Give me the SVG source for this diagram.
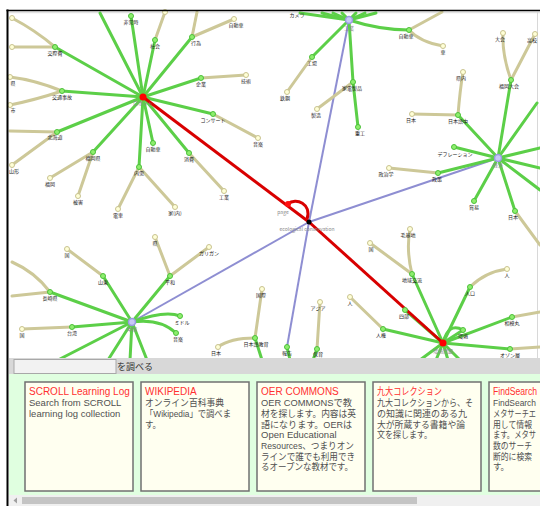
<svg xmlns="http://www.w3.org/2000/svg" width="540" height="508" viewBox="0 0 540 508">
<style>
.g{stroke:#5ccf48;stroke-width:3;fill:none;stroke-linecap:round}
.t{stroke:#cdc898;stroke-width:3;fill:none;stroke-linecap:round}
.b{stroke:#8e8ed2;stroke-width:2;fill:none}
.r{stroke:#d80000;stroke-width:3;fill:none}
.gn{fill:#8eee6e;stroke:#4cc03a;stroke-width:1}
.tn{fill:#ffffd6;stroke:#c8c290;stroke-width:1}
.hn{fill:#c8c8f8;stroke:#9a9ae0;stroke-width:1.5}
.lb{font-family:"Noto Sans CJK JP",sans-serif;font-size:5px;fill:#222;text-anchor:middle}
.hl{font-family:"Noto Sans CJK JP","Liberation Sans",sans-serif;font-size:5px;fill:#888;text-anchor:middle}
.card{fill:#fffff0;stroke:#707070;stroke-width:1.5}
.ct{font-family:"Liberation Sans","Noto Sans CJK JP",sans-serif;font-size:10px;fill:#ff3030}
.cb{font-family:"Liberation Sans","Noto Sans CJK JP",sans-serif;font-size:9.5px;fill:#505050}
</style>
<rect x="0" y="0" width="540" height="508" fill="#ffffff"/>
<!-- frame -->
<rect x="9" y="11" width="531" height="347" fill="#ffffff"/>
<line x1="9" y1="12.5" x2="540" y2="12.5" stroke="#e2e2e2" stroke-width="1.5"/>
<line x1="537.5" y1="12" x2="537.5" y2="358" stroke="#d8d8d8" stroke-width="1"/>

<g id="connectors">
<!-- blue -->
<line class="b" x1="309" y1="222" x2="349" y2="20"/>
<line class="b" x1="309" y1="222" x2="498" y2="158"/>
<line class="b" x1="309" y1="222" x2="132" y2="322"/>
<line class="b" x1="309" y1="222" x2="287" y2="347"/>
<!-- tan -->
<path class="t" d="M55,47 Q35,30 12,18"/>
<line class="t" x1="55" y1="47" x2="12" y2="47"/>
<path class="t" d="M62,91 Q35,80 10,77"/>
<path class="t" d="M62,91 Q35,100 10,105"/>
<line class="t" x1="155" y1="40" x2="165" y2="12"/>
<line class="t" x1="192" y1="37" x2="234" y2="19"/>
<line class="t" x1="192" y1="37" x2="197" y2="12"/>
<line class="t" x1="201" y1="78" x2="246" y2="75"/>
<line class="t" x1="213" y1="114" x2="258" y2="138"/>
<line class="t" x1="189" y1="153" x2="224" y2="191"/>
<line class="t" x1="139" y1="167" x2="118" y2="209"/>
<line class="t" x1="139" y1="167" x2="175" y2="207"/>
<line class="t" x1="93" y1="152" x2="50" y2="178"/>
<line class="t" x1="93" y1="152" x2="78" y2="196"/>
<line class="t" x1="57" y1="132" x2="10" y2="131"/>
<line class="t" x1="57" y1="132" x2="12" y2="165"/>
<line class="t" x1="312" y1="57" x2="287" y2="92"/>
<line class="t" x1="353" y1="82" x2="317" y2="109"/>
<line class="t" x1="409" y1="30" x2="442" y2="12"/>
<path class="t" d="M409,30 Q420,42 443,46"/>
<line class="t" x1="438" y1="173" x2="389" y2="168"/>
<line class="t" x1="515" y1="211" x2="540" y2="245"/>
<line class="t" x1="458" y1="115" x2="412" y2="114"/>
<path class="t" d="M458,115 Q460,90 463,72"/>
<path class="t" d="M511,80 Q502,55 503,33"/>
<line class="t" x1="511" y1="80" x2="535" y2="34"/>
<line class="t" x1="103" y1="276" x2="67" y2="249"/>
<path class="t" d="M50,292 Q35,272 12,262"/>
<line class="t" x1="50" y1="292" x2="12" y2="296"/>
<line class="t" x1="72" y1="327" x2="22" y2="329"/>
<line class="t" x1="170" y1="276" x2="155" y2="237"/>
<line class="t" x1="170" y1="276" x2="209" y2="247"/>
<line class="t" x1="255" y1="338" x2="262" y2="289"/>
<path class="t" d="M255,338 Q230,338 218,347"/>
<line class="t" x1="317" y1="349" x2="320" y2="302"/>
<path class="t" d="M412,274 Q406,250 410,229"/>
<line class="t" x1="412" y1="274" x2="370" y2="243"/>
<line class="t" x1="383" y1="329" x2="350" y2="297"/>
<path class="t" d="M470,287 Q485,272 507,269"/>
<line class="t" x1="512" y1="317" x2="540" y2="312"/>
<line class="t" x1="510" y1="349" x2="540" y2="347"/>
<!-- green -->
<line class="g" x1="143" y1="97" x2="55" y2="47"/>
<line class="g" x1="143" y1="97" x2="62" y2="91"/>
<line class="g" x1="143" y1="97" x2="131" y2="16"/>
<line class="g" x1="143" y1="97" x2="155" y2="40"/>
<line class="g" x1="143" y1="97" x2="192" y2="37"/>
<line class="g" x1="143" y1="97" x2="201" y2="78"/>
<line class="g" x1="143" y1="97" x2="213" y2="114"/>
<line class="g" x1="143" y1="97" x2="189" y2="153"/>
<line class="g" x1="143" y1="97" x2="153" y2="143"/>
<line class="g" x1="143" y1="97" x2="139" y2="167"/>
<line class="g" x1="143" y1="97" x2="93" y2="152"/>
<line class="g" x1="143" y1="97" x2="57" y2="132"/>
<line class="g" x1="143" y1="97" x2="100" y2="13"/>
<line class="g" x1="349" y1="20" x2="312" y2="57"/>
<line class="g" x1="349" y1="20" x2="353" y2="82"/>
<line class="g" x1="353" y1="82" x2="358" y2="127"/>
<path class="g" d="M349,20 Q380,30 409,30"/>
<line class="g" x1="349" y1="20" x2="300" y2="13"/>
<line class="g" x1="349" y1="20" x2="322" y2="13"/>
<line class="g" x1="349" y1="20" x2="333" y2="13"/>
<line class="g" x1="349" y1="20" x2="342" y2="13"/>
<line class="g" x1="349" y1="20" x2="356" y2="13"/>
<line class="g" x1="349" y1="20" x2="365" y2="13"/>
<line class="g" x1="349" y1="20" x2="376" y2="13"/>
<line class="g" x1="498" y1="158" x2="454" y2="147"/>
<line class="g" x1="498" y1="158" x2="438" y2="173"/>
<line class="g" x1="498" y1="158" x2="474" y2="201"/>
<line class="g" x1="498" y1="158" x2="515" y2="211"/>
<line class="g" x1="498" y1="158" x2="458" y2="115"/>
<line class="g" x1="498" y1="158" x2="511" y2="80"/>
<line class="g" x1="498" y1="158" x2="537" y2="103"/>
<line class="g" x1="498" y1="158" x2="540" y2="148"/>
<line class="g" x1="498" y1="158" x2="540" y2="168"/>
<line class="g" x1="498" y1="158" x2="540" y2="190"/>
<line class="g" x1="132" y1="322" x2="103" y2="276"/>
<line class="g" x1="132" y1="322" x2="50" y2="292"/>
<line class="g" x1="132" y1="322" x2="72" y2="327"/>
<line class="g" x1="132" y1="322" x2="170" y2="276"/>
<path class="g" d="M132,322 Q165,310 180,316"/>
<path class="g" d="M132,322 Q160,318 176,333"/>
<line class="g" x1="132" y1="322" x2="58" y2="360"/>
<line class="g" x1="132" y1="322" x2="108" y2="360"/>
<line class="g" x1="132" y1="322" x2="130" y2="360"/>
<line class="g" x1="132" y1="322" x2="147" y2="360"/>
<line class="g" x1="255" y1="338" x2="262" y2="360"/>
<line class="g" x1="287" y1="347" x2="290" y2="360"/>
<line class="g" x1="317" y1="349" x2="313" y2="360"/>
<line class="g" x1="443" y1="343" x2="412" y2="274"/>
<line class="g" x1="443" y1="343" x2="405" y2="310"/>
<line class="g" x1="443" y1="343" x2="383" y2="329"/>
<line class="g" x1="443" y1="343" x2="470" y2="287"/>
<line class="g" x1="443" y1="343" x2="512" y2="317"/>
<path class="g" d="M443,343 Q448,322 463,330"/>
<line class="g" x1="443" y1="343" x2="463" y2="330"/>
<line class="g" x1="443" y1="343" x2="510" y2="349"/>
<line class="g" x1="443" y1="343" x2="420" y2="360"/>
<line class="g" x1="443" y1="343" x2="436" y2="360"/>
<line class="g" x1="443" y1="343" x2="448" y2="360"/>
<line class="g" x1="443" y1="343" x2="460" y2="360"/>
<!-- red -->
<line class="r" x1="143" y1="97" x2="309" y2="222"/>
<line class="r" x1="309" y1="222" x2="443" y2="343"/>
<path class="r" d="M288,204 C296,197 312,204 307,219"/>
</g>

<!-- hub nodes -->
<g id="hub-a"><circle cx="143" cy="97" r="3.5" fill="#ff0000"/><text class="hl" x="143" y="105">ロボット</text></g>
<g id="hub-c"><circle cx="309" cy="222" r="2.5" fill="#000"/><circle cx="288" cy="204" r="3" fill="#ff1010"/><text class="hl" x="283" y="214">page</text><text class="hl" x="307" y="231">ecological conservation</text></g>
<g id="hub-b"><circle cx="443" cy="343" r="3.5" fill="#ff0000"/><text class="hl" x="443" y="353">環境問題</text></g>
<g id="hub-d"><circle class="hn" cx="349" cy="20" r="3.5"/><text class="hl" x="349" y="30">工業</text></g>
<g id="hub-e"><circle class="hn" cx="498" cy="158" r="3.5"/><text class="hl" x="498" y="167">経済</text></g>
<g id="hub-f"><circle class="hn" cx="132" cy="322" r="3.5"/><text class="hl" x="132" y="331">中国</text></g>

<!-- green nodes -->
<g id="n-a1"><circle class="gn" cx="55" cy="47" r="2.5"/><text class="lb" x="55" y="55">交際費</text></g>
<g id="n-a2"><circle class="gn" cx="62" cy="91" r="2.5"/><text class="lb" x="62" y="99">交通事故</text></g>
<g id="n-a3"><circle class="gn" cx="131" cy="16" r="2.5"/><text class="lb" x="131" y="24">非常時</text></g>
<g id="n-a4"><circle class="gn" cx="155" cy="40" r="2.5"/><text class="lb" x="155" y="48">社会</text></g>
<g id="n-a5"><circle class="gn" cx="192" cy="37" r="2.5"/><text class="lb" x="196" y="45">行為</text></g>
<g id="n-a6"><circle class="gn" cx="201" cy="78" r="2.5"/><text class="lb" x="201" y="86">企業</text></g>
<g id="n-a7"><circle class="gn" cx="213" cy="114" r="2.5"/><text class="lb" x="213" y="122">コンサート</text></g>
<g id="n-a8"><circle class="gn" cx="189" cy="153" r="2.5"/><text class="lb" x="189" y="161">消費</text></g>
<g id="n-a9"><circle class="gn" cx="153" cy="143" r="2.5"/><text class="lb" x="153" y="151">自動車</text></g>
<g id="n-a10"><circle class="gn" cx="139" cy="167" r="2.5"/><text class="lb" x="139" y="175">内需</text></g>
<g id="n-a11"><circle class="gn" cx="93" cy="152" r="2.5"/><text class="lb" x="93" y="160">福岡県</text></g>
<g id="n-a12"><circle class="gn" cx="57" cy="132" r="2.5"/><text class="lb" x="55" y="139">北海道</text></g>
<g id="n-d1"><circle class="gn" cx="312" cy="57" r="2.5"/><text class="lb" x="312" y="65">工場</text></g>
<g id="n-d2"><circle class="gn" cx="353" cy="82" r="2.5"/><text class="lb" x="352" y="90">家電製品</text></g>
<g id="n-d3"><circle class="gn" cx="409" cy="30" r="2.5"/><text class="lb" x="406" y="38">自動車</text></g>
<g id="n-d4"><circle class="gn" cx="358" cy="127" r="2.5"/><text class="lb" x="360" y="135">重工</text></g>
<g id="n-d5"><text class="lb" x="297" y="17">カメラ</text></g>
<g id="n-e1"><circle class="gn" cx="454" cy="147" r="2.5"/><text class="lb" x="455" y="156">デフレーション</text></g>
<g id="n-e2"><circle class="gn" cx="438" cy="173" r="2.5"/><text class="lb" x="437" y="181">政策</text></g>
<g id="n-e3"><circle class="gn" cx="474" cy="201" r="2.5"/><text class="lb" x="474" y="209">貿易</text></g>
<g id="n-e4"><circle class="gn" cx="515" cy="211" r="2.5"/><text class="lb" x="513" y="219">日本</text></g>
<g id="n-e5"><circle class="gn" cx="458" cy="115" r="2.5"/><text class="lb" x="458" y="123">日本語中</text></g>
<g id="n-e6"><circle class="gn" cx="511" cy="80" r="2.5"/><text class="lb" x="509" y="88">福岡大会</text></g>
<g id="n-f1"><circle class="gn" cx="103" cy="276" r="2.5"/><text class="lb" x="103" y="284">山東</text></g>
<g id="n-f2"><circle class="gn" cx="50" cy="292" r="2.5"/><text class="lb" x="50" y="300">長崎県</text></g>
<g id="n-f3"><circle class="gn" cx="72" cy="327" r="2.5"/><text class="lb" x="72" y="335">台湾</text></g>
<g id="n-f4"><circle class="gn" cx="170" cy="276" r="2.5"/><text class="lb" x="170" y="284">平和</text></g>
<g id="n-f5"><circle class="gn" cx="180" cy="316" r="2.5"/><text class="lb" x="182" y="324">ミドル</text></g>
<g id="n-f6"><circle class="gn" cx="176" cy="333" r="2.5"/><text class="lb" x="178" y="341">音楽</text></g>
<g id="n-m1"><circle class="gn" cx="255" cy="338" r="2.5"/><text class="lb" x="256" y="346">日本語教育</text></g>
<g id="n-m2"><circle class="gn" cx="287" cy="347" r="2.5"/><text class="lb" x="287" y="355">報告</text></g>
<g id="n-m3"><circle class="gn" cx="317" cy="349" r="2.5"/><text class="lb" x="318" y="356">保育</text></g>
<g id="n-b1"><circle class="gn" cx="412" cy="274" r="2.5"/><text class="lb" x="412" y="282">地域交流</text></g>
<g id="n-b2"><circle class="gn" cx="405" cy="310" r="2.5"/><text class="lb" x="404" y="318">四部</text></g>
<g id="n-b3"><circle class="gn" cx="383" cy="329" r="2.5"/><text class="lb" x="381" y="337">人権</text></g>
<g id="n-b4"><circle class="gn" cx="470" cy="287" r="2.5"/><text class="lb" x="470" y="295">人口</text></g>
<g id="n-b5"><circle class="gn" cx="512" cy="317" r="2.5"/><text class="lb" x="512" y="325">相模丸</text></g>
<g id="n-b6"><circle class="gn" cx="463" cy="330" r="2.5"/><text class="lb" x="463" y="338">環境</text></g>
<g id="n-b7"><circle class="gn" cx="510" cy="349" r="2.5"/><text class="lb" x="510" y="357">オゾン層</text></g>

<!-- tan leaves -->
<g id="l-1"><circle class="tn" cx="12" cy="18" r="2.5"/></g>
<g id="l-2"><circle class="tn" cx="12" cy="47" r="2.5"/></g>
<g id="l-3"><circle class="tn" cx="10" cy="77" r="2.5"/><text class="lb" x="13" y="85">県</text></g>
<g id="l-4"><circle class="tn" cx="10" cy="105" r="2.5"/><text class="lb" x="13" y="112">市</text></g>
<g id="l-5"><circle class="tn" cx="165" cy="12" r="2.5"/></g>
<g id="l-6"><circle class="tn" cx="234" cy="19" r="2.5"/><text class="lb" x="236" y="27">自動車</text></g>
<g id="l-7"><circle class="tn" cx="246" cy="75" r="2.5"/><text class="lb" x="246" y="83">技術</text></g>
<g id="l-8"><circle class="tn" cx="258" cy="138" r="2.5"/><text class="lb" x="258" y="146">音楽</text></g>
<g id="l-9"><circle class="tn" cx="224" cy="191" r="2.5"/><text class="lb" x="224" y="199">工業</text></g>
<g id="l-10"><circle class="tn" cx="118" cy="209" r="2.5"/><text class="lb" x="118" y="217">電車</text></g>
<g id="l-11"><circle class="tn" cx="175" cy="207" r="2.5"/><text class="lb" x="175" y="215">家(内)</text></g>
<g id="l-12"><circle class="tn" cx="50" cy="178" r="2.5"/><text class="lb" x="50" y="186">福岡</text></g>
<g id="l-13"><circle class="tn" cx="78" cy="196" r="2.5"/><text class="lb" x="78" y="204">被害</text></g>
<g id="l-14"><circle class="tn" cx="12" cy="165" r="2.5"/><text class="lb" x="14" y="173">山形</text></g>
<g id="l-15"><circle class="tn" cx="287" cy="92" r="2.5"/><text class="lb" x="285" y="100">鉄鋼</text></g>
<g id="l-16"><circle class="tn" cx="317" cy="109" r="2.5"/><text class="lb" x="316" y="117">製造</text></g>
<g id="l-17"><circle class="tn" cx="443" cy="46" r="2.5"/><text class="lb" x="443" y="54">車</text></g>
<g id="l-18"><circle class="tn" cx="389" cy="168" r="2.5"/><text class="lb" x="386" y="176">政治学</text></g>
<g id="l-19"><circle class="tn" cx="412" cy="114" r="2.5"/><text class="lb" x="411" y="122">日本</text></g>
<g id="l-20"><circle class="tn" cx="463" cy="72" r="2.5"/><text class="lb" x="461" y="80">県内</text></g>
<g id="l-21"><circle class="tn" cx="503" cy="33" r="2.5"/><text class="lb" x="500" y="41">大会</text></g>
<g id="l-22"><circle class="tn" cx="535" cy="34" r="2.5"/><text class="lb" x="532" y="42">高校</text></g>
<g id="l-23"><circle class="tn" cx="67" cy="249" r="2.5"/><text class="lb" x="67" y="257">国</text></g>
<g id="l-24"><circle class="tn" cx="22" cy="329" r="2.5"/><text class="lb" x="22" y="337">国</text></g>
<g id="l-25"><circle class="tn" cx="155" cy="237" r="2.5"/><text class="lb" x="155" y="245">県</text></g>
<g id="l-26"><circle class="tn" cx="209" cy="247" r="2.5"/><text class="lb" x="209" y="255">ガリガン</text></g>
<g id="l-27"><circle class="tn" cx="262" cy="289" r="2.5"/><text class="lb" x="261" y="297">国際</text></g>
<g id="l-28"><circle class="tn" cx="218" cy="347" r="2.5"/><text class="lb" x="216" y="355">日本</text></g>
<g id="l-29"><circle class="tn" cx="320" cy="302" r="2.5"/><text class="lb" x="318" y="310">アジア</text></g>
<g id="l-30"><circle class="tn" cx="410" cy="229" r="2.5"/><text class="lb" x="408" y="237">毛基地</text></g>
<g id="l-31"><circle class="tn" cx="370" cy="243" r="2.5"/><text class="lb" x="371" y="251">国</text></g>
<g id="l-32"><circle class="tn" cx="350" cy="297" r="2.5"/><text class="lb" x="350" y="305">人</text></g>
<g id="l-33"><circle class="tn" cx="507" cy="269" r="2.5"/><text class="lb" x="507" y="277">人</text></g>

<!-- search bar -->
<g id="searchbar">
<rect x="9" y="358" width="531" height="16" fill="#d8d8d8"/>
<rect x="14" y="359.5" width="102" height="14" fill="#f2f2f2" stroke="#a8a8a8" stroke-width="1"/>
<text x="117" y="369.5" font-family="Noto Sans CJK JP, sans-serif" font-size="9" fill="#333">を調べる</text>
</g>
<rect x="9" y="374" width="531" height="121" fill="#e0ffe0"/>

<!-- cards -->
<g id="card-scroll">
<rect class="card" x="25" y="382" width="108" height="109"/>
<text class="ct" x="29" y="395">SCROLL Learning Log</text>
<text class="cb" x="29" y="406">Search from SCROLL</text>
<text class="cb" x="29" y="417">learning log collection</text>
</g>
<g id="card-wikipedia">
<rect class="card" x="141" y="382" width="108" height="109"/>
<text class="ct" x="145" y="395">WIKIPEDIA</text>
<text class="cb" x="145" y="406" textLength="79" lengthAdjust="spacingAndGlyphs">オンライン百科事典</text>
<text class="cb" x="145" y="417" textLength="86" lengthAdjust="spacingAndGlyphs">「Wikipedia」で調べま</text>
<text class="cb" x="145" y="428" textLength="16" lengthAdjust="spacingAndGlyphs">す。</text>
</g>
<g id="card-oer">
<rect class="card" x="257" y="382" width="108" height="109"/>
<text class="ct" x="261" y="395">OER COMMONS</text>
<text class="cb" x="261" y="406" textLength="91" lengthAdjust="spacingAndGlyphs">OER COMMONSで教</text>
<text class="cb" x="261" y="417" textLength="95" lengthAdjust="spacingAndGlyphs">材を探します。内容は英</text>
<text class="cb" x="261" y="427.5" textLength="91" lengthAdjust="spacingAndGlyphs">語になります。OERは</text>
<text class="cb" x="261" y="438">Open Educational</text>
<text class="cb" x="261" y="449" textLength="93" lengthAdjust="spacingAndGlyphs">Resources、つまりオン</text>
<text class="cb" x="261" y="459.5" textLength="94" lengthAdjust="spacingAndGlyphs">ラインで誰でも利用でき</text>
<text class="cb" x="261" y="470" textLength="92" lengthAdjust="spacingAndGlyphs">るオープンな教材です。</text>
</g>
<g id="card-kyudai">
<rect class="card" x="373" y="382" width="108" height="109"/>
<text class="ct" x="377" y="395" textLength="65" lengthAdjust="spacingAndGlyphs">九大コレクション</text>
<text class="cb" x="377" y="406" textLength="96" lengthAdjust="spacingAndGlyphs">九大コレクションから、そ</text>
<text class="cb" x="377" y="417" textLength="90" lengthAdjust="spacingAndGlyphs">の知識に関連のある九</text>
<text class="cb" x="377" y="427.5" textLength="88" lengthAdjust="spacingAndGlyphs">大が所蔵する書籍や論</text>
<text class="cb" x="377" y="438" textLength="55" lengthAdjust="spacingAndGlyphs">文を探します。</text>
</g>
<g id="card-findsearch">
<rect class="card" x="489" y="382" width="52" height="109"/>
<text class="ct" x="493" y="395" textLength="44" lengthAdjust="spacingAndGlyphs">FindSearch</text>
<text class="cb" x="493" y="406" textLength="43" lengthAdjust="spacingAndGlyphs">FindSearch</text>
<text class="cb" x="493" y="417" textLength="43" lengthAdjust="spacingAndGlyphs">メタサーチエ</text>
<text class="cb" x="493" y="427.5" textLength="39" lengthAdjust="spacingAndGlyphs">用して情報</text>
<text class="cb" x="493" y="438" textLength="43" lengthAdjust="spacingAndGlyphs">ます。メタサ</text>
<text class="cb" x="493" y="449" textLength="39" lengthAdjust="spacingAndGlyphs">数のサーチ</text>
<text class="cb" x="493" y="459.5" textLength="39" lengthAdjust="spacingAndGlyphs">断的に検索</text>
<text class="cb" x="493" y="470" textLength="16" lengthAdjust="spacingAndGlyphs">す。</text>
</g>

<!-- scrollbar -->
<g id="scrollbar">
<rect x="9" y="495" width="531" height="11" fill="#f0f0f0"/>
<path d="M17,497.5 L13.5,500.5 L17,503.5 Z" fill="#a0a0a0"/>
<rect x="22" y="497" width="395" height="7" fill="#c4c4c4"/>
</g>

<!-- outer border -->
<line x1="7.5" y1="9.5" x2="7.5" y2="506" stroke="#000" stroke-width="2"/>
<line x1="6.5" y1="10.5" x2="540" y2="10.5" stroke="#000" stroke-width="1.5"/>
</svg>
